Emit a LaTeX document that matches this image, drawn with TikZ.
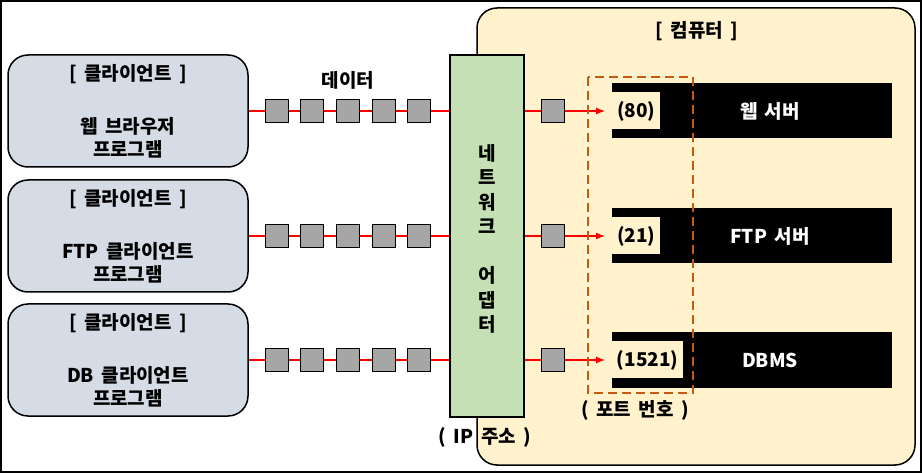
\documentclass[tikz,border=0pt]{standalone}
\usepackage{fontspec}
\setmainfont{Noto Sans CJK KR}[WordSpace=1.7]
\usetikzlibrary{arrows.meta}
\definecolor{clientfill}{HTML}{D6DCE5}
\definecolor{adapterfill}{HTML}{C5E0B4}
\definecolor{comfill}{HTML}{FFF2CC}
\definecolor{portline}{HTML}{C55A11}
\definecolor{packetfill}{HTML}{A6A6A6}
\tikzset{
  every node/.style={font=\bfseries\fontsize{19}{23}\selectfont},
  client/.style={draw,line width=1.5pt,rounded corners=20pt,fill=clientfill,
    minimum width=240pt,minimum height=112pt,align=center},
  packet/.style={draw,line width=0.8pt,fill=packetfill,minimum size=23pt,inner sep=0pt},
  server/.style={fill=black,minimum width=280pt,minimum height=55pt,inner sep=0pt},
  notch/.style={fill=comfill,minimum height=37pt,inner sep=0pt,anchor=west},
  wire/.style={red,line width=1.2pt},
}
\begin{document}
\begin{tikzpicture}[x=1pt,y=-1pt]
  \useasboundingbox(0,0)rectangle(922,473);
  \draw[line width=2pt](1,1)rectangle(921,472);
  % computer
  \draw[line width=1.5pt,rounded corners=20pt,fill=comfill](477,8)rectangle(915,465);
  \node(com)at(697,31){[ 컴퓨터 ]};
  % network adapter
  \node[draw,line width=1.5pt,fill=adapterfill,minimum width=74pt,minimum height=362pt](nic)at(487,236){};
  \node[align=center,font=\bfseries\fontsize{19}{24.5}\selectfont](nictext)at(487,239)
    {네\\트\\워\\크\\\mbox{}\\어\\댑\\터};
  \node(ip)at(485,437){( IP 주소 )};
  \node(data)at(348,80){데이터};
  % clients, packets and servers
  \foreach \i/\y/\prog/\port/\srv/\nw in {1/111/웹 브라우저/80/웹 서버/48,
      2/236/FTP 클라이언트/21/FTP 서버/48,3/360/DB 클라이언트/1521/DBMS/71}{
    \node[client](cl\i)at(128,\y){[ 클라이언트 ]\\[30pt]\prog\\프로그램};
    \node[server](srv\i)at(752,\y){};
    \node[notch,minimum width=\nw pt](port\i)at(612,\y){(\port)};
    \node[white](srvname\i)at(770,\y){\srv};
    \draw[wire](cl\i.east)--(nic.west|-cl\i.east);
    \foreach \j/\x in {1/277,2/312,3/348,4/384,5/419}
      \node[packet](pk\i\j)at(\x,\y){};
    \draw[wire,-{Latex[length=9pt,width=7pt]},shorten >=7pt](nic.east|-port\i.west)--(port\i.west);
    \node[packet](out\i)at(553,\y){};
  }
  % port numbers
  \draw[portline,line width=2.2pt,dash pattern=on 9pt off 5pt](588,77)rectangle(693,393);
  \node(portlabel)at(635,410){( 포트 번호 )};
\end{tikzpicture}
\end{document}
